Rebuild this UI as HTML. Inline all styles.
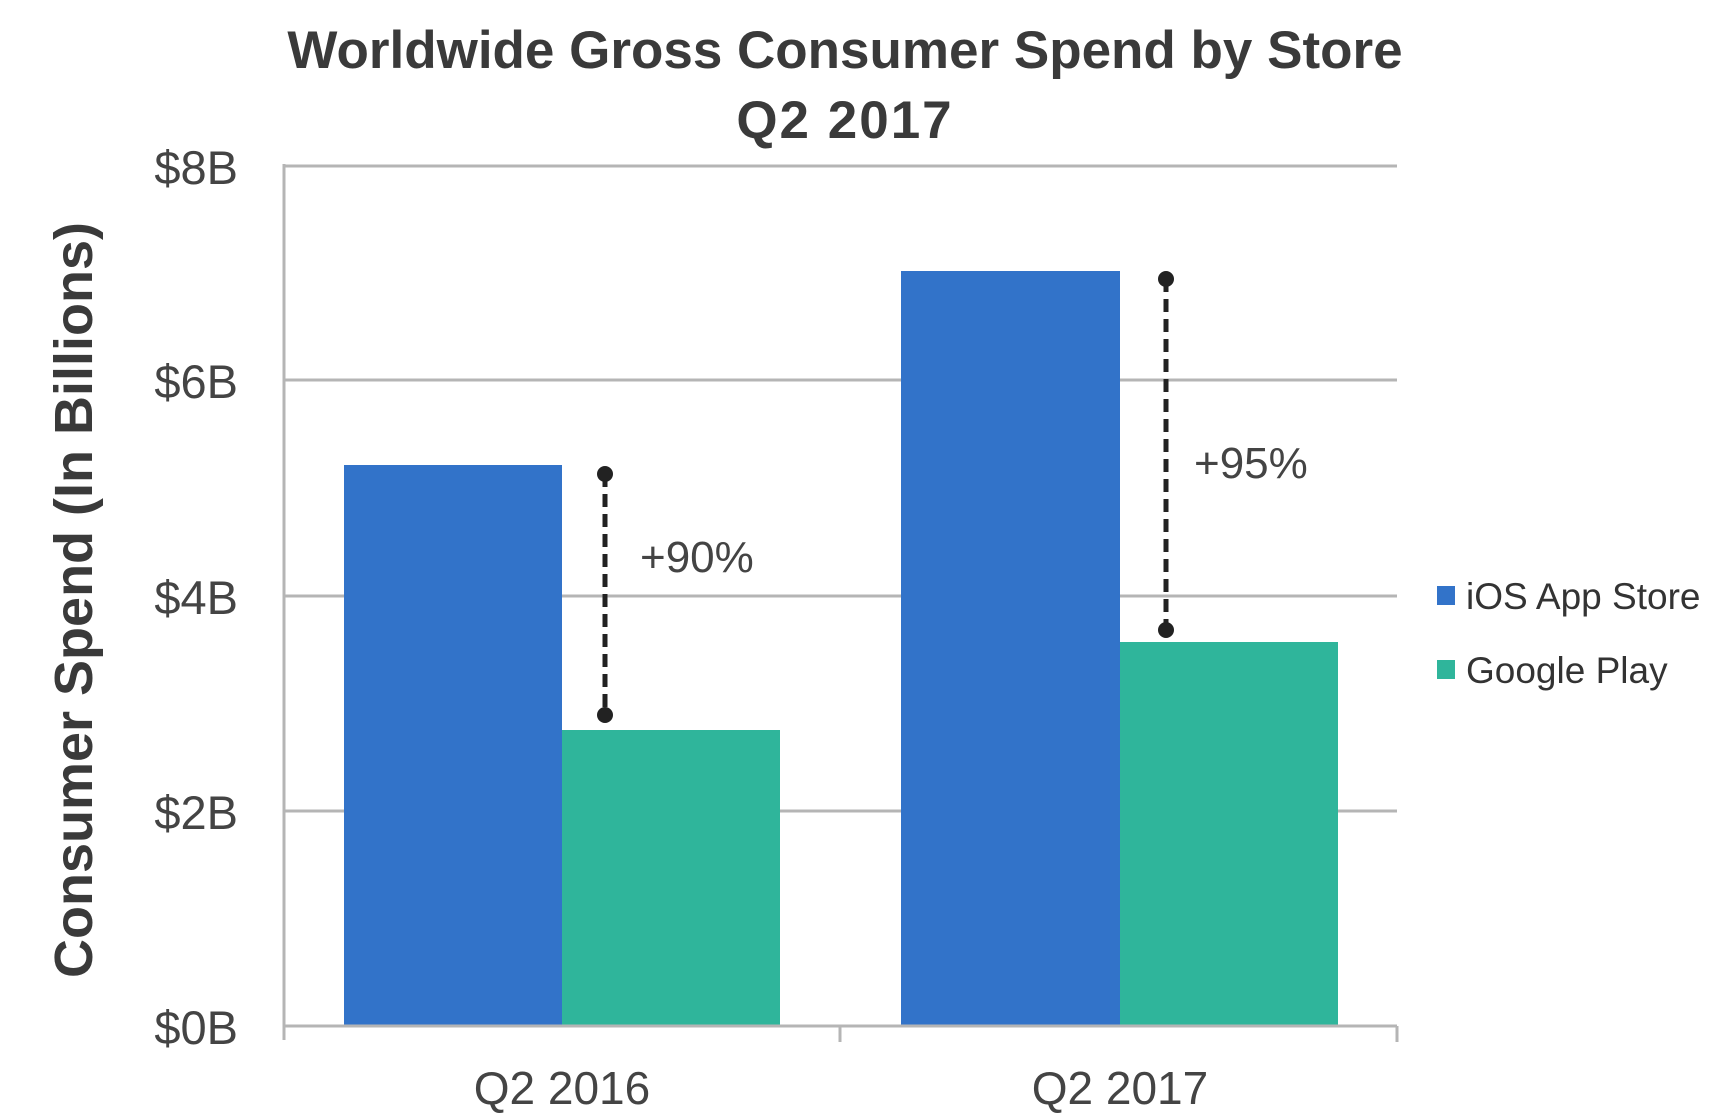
<!DOCTYPE html>
<html><head><meta charset="utf-8"><style>
html,body{margin:0;padding:0;background:#fff;}
svg{display:block;}
text{font-family:"Liberation Sans",sans-serif;}
</style></head><body>
<svg width="1711" height="1119" viewBox="0 0 1711 1119" xmlns="http://www.w3.org/2000/svg">
<rect width="1711" height="1119" fill="#fff"/>
<text x="845" y="68" text-anchor="middle" font-size="53" font-weight="bold" fill="#3a3a3a">Worldwide Gross Consumer Spend by Store</text>
<text x="845" y="138" text-anchor="middle" font-size="53" font-weight="bold" fill="#3a3a3a" letter-spacing="2">Q2 2017</text>
<g stroke="#b5b5b5" stroke-width="3">
<line x1="284" y1="166" x2="1397" y2="166"/>
<line x1="284" y1="380" x2="1397" y2="380"/>
<line x1="284" y1="596" x2="1397" y2="596"/>
<line x1="284" y1="811" x2="1397" y2="811"/>
</g>
<line x1="284" y1="164" x2="284" y2="1040" stroke="#b5b5b5" stroke-width="3"/>
<g font-size="47" fill="#444" text-anchor="end">
<text x="238" y="184">$8B</text>
<text x="238" y="398">$6B</text>
<text x="238" y="614">$4B</text>
<text x="238" y="829">$2B</text>
<text x="238" y="1044">$0B</text>
</g>
<text transform="translate(92,600) rotate(-90)" text-anchor="middle" font-size="54" font-weight="bold" fill="#3a3a3a">Consumer Spend (In Billions)</text>
<rect x="344" y="465" width="218" height="561" fill="#3273c9"/>
<rect x="562" y="730" width="218" height="296" fill="#2fb59b"/>
<rect x="901" y="271" width="219" height="755" fill="#3273c9"/>
<rect x="1120" y="642" width="218" height="384" fill="#2fb59b"/>
<g stroke="#b5b5b5" stroke-width="3">
<line x1="284" y1="1026" x2="1397" y2="1026"/>
<line x1="840" y1="1026" x2="840" y2="1042"/>
<line x1="1397" y1="1026" x2="1397" y2="1042"/>
</g>
<g stroke="#222" stroke-width="5" stroke-dasharray="13,7">
<line x1="605" y1="474" x2="605" y2="715"/>
<line x1="1166" y1="279" x2="1166" y2="630"/>
</g>
<g fill="#222">
<circle cx="605" cy="474" r="8"/><circle cx="605" cy="715" r="8"/>
<circle cx="1166" cy="279" r="8"/><circle cx="1166" cy="630" r="8"/>
</g>
<text x="640" y="572" font-size="44" fill="#444">+90%</text>
<text x="1194" y="478" font-size="44" fill="#444">+95%</text>
<rect x="1437" y="586" width="18" height="19" fill="#3273c9"/>
<rect x="1437" y="660" width="18" height="19" fill="#2fb59b"/>
<text x="1466" y="609" font-size="37" fill="#333">iOS App Store</text>
<text x="1466" y="683" font-size="37" fill="#333">Google Play</text>
<text x="562" y="1104" text-anchor="middle" font-size="46" fill="#444">Q2 2016</text>
<text x="1120" y="1104" text-anchor="middle" font-size="46" fill="#444">Q2 2017</text>
</svg>
</body></html>
